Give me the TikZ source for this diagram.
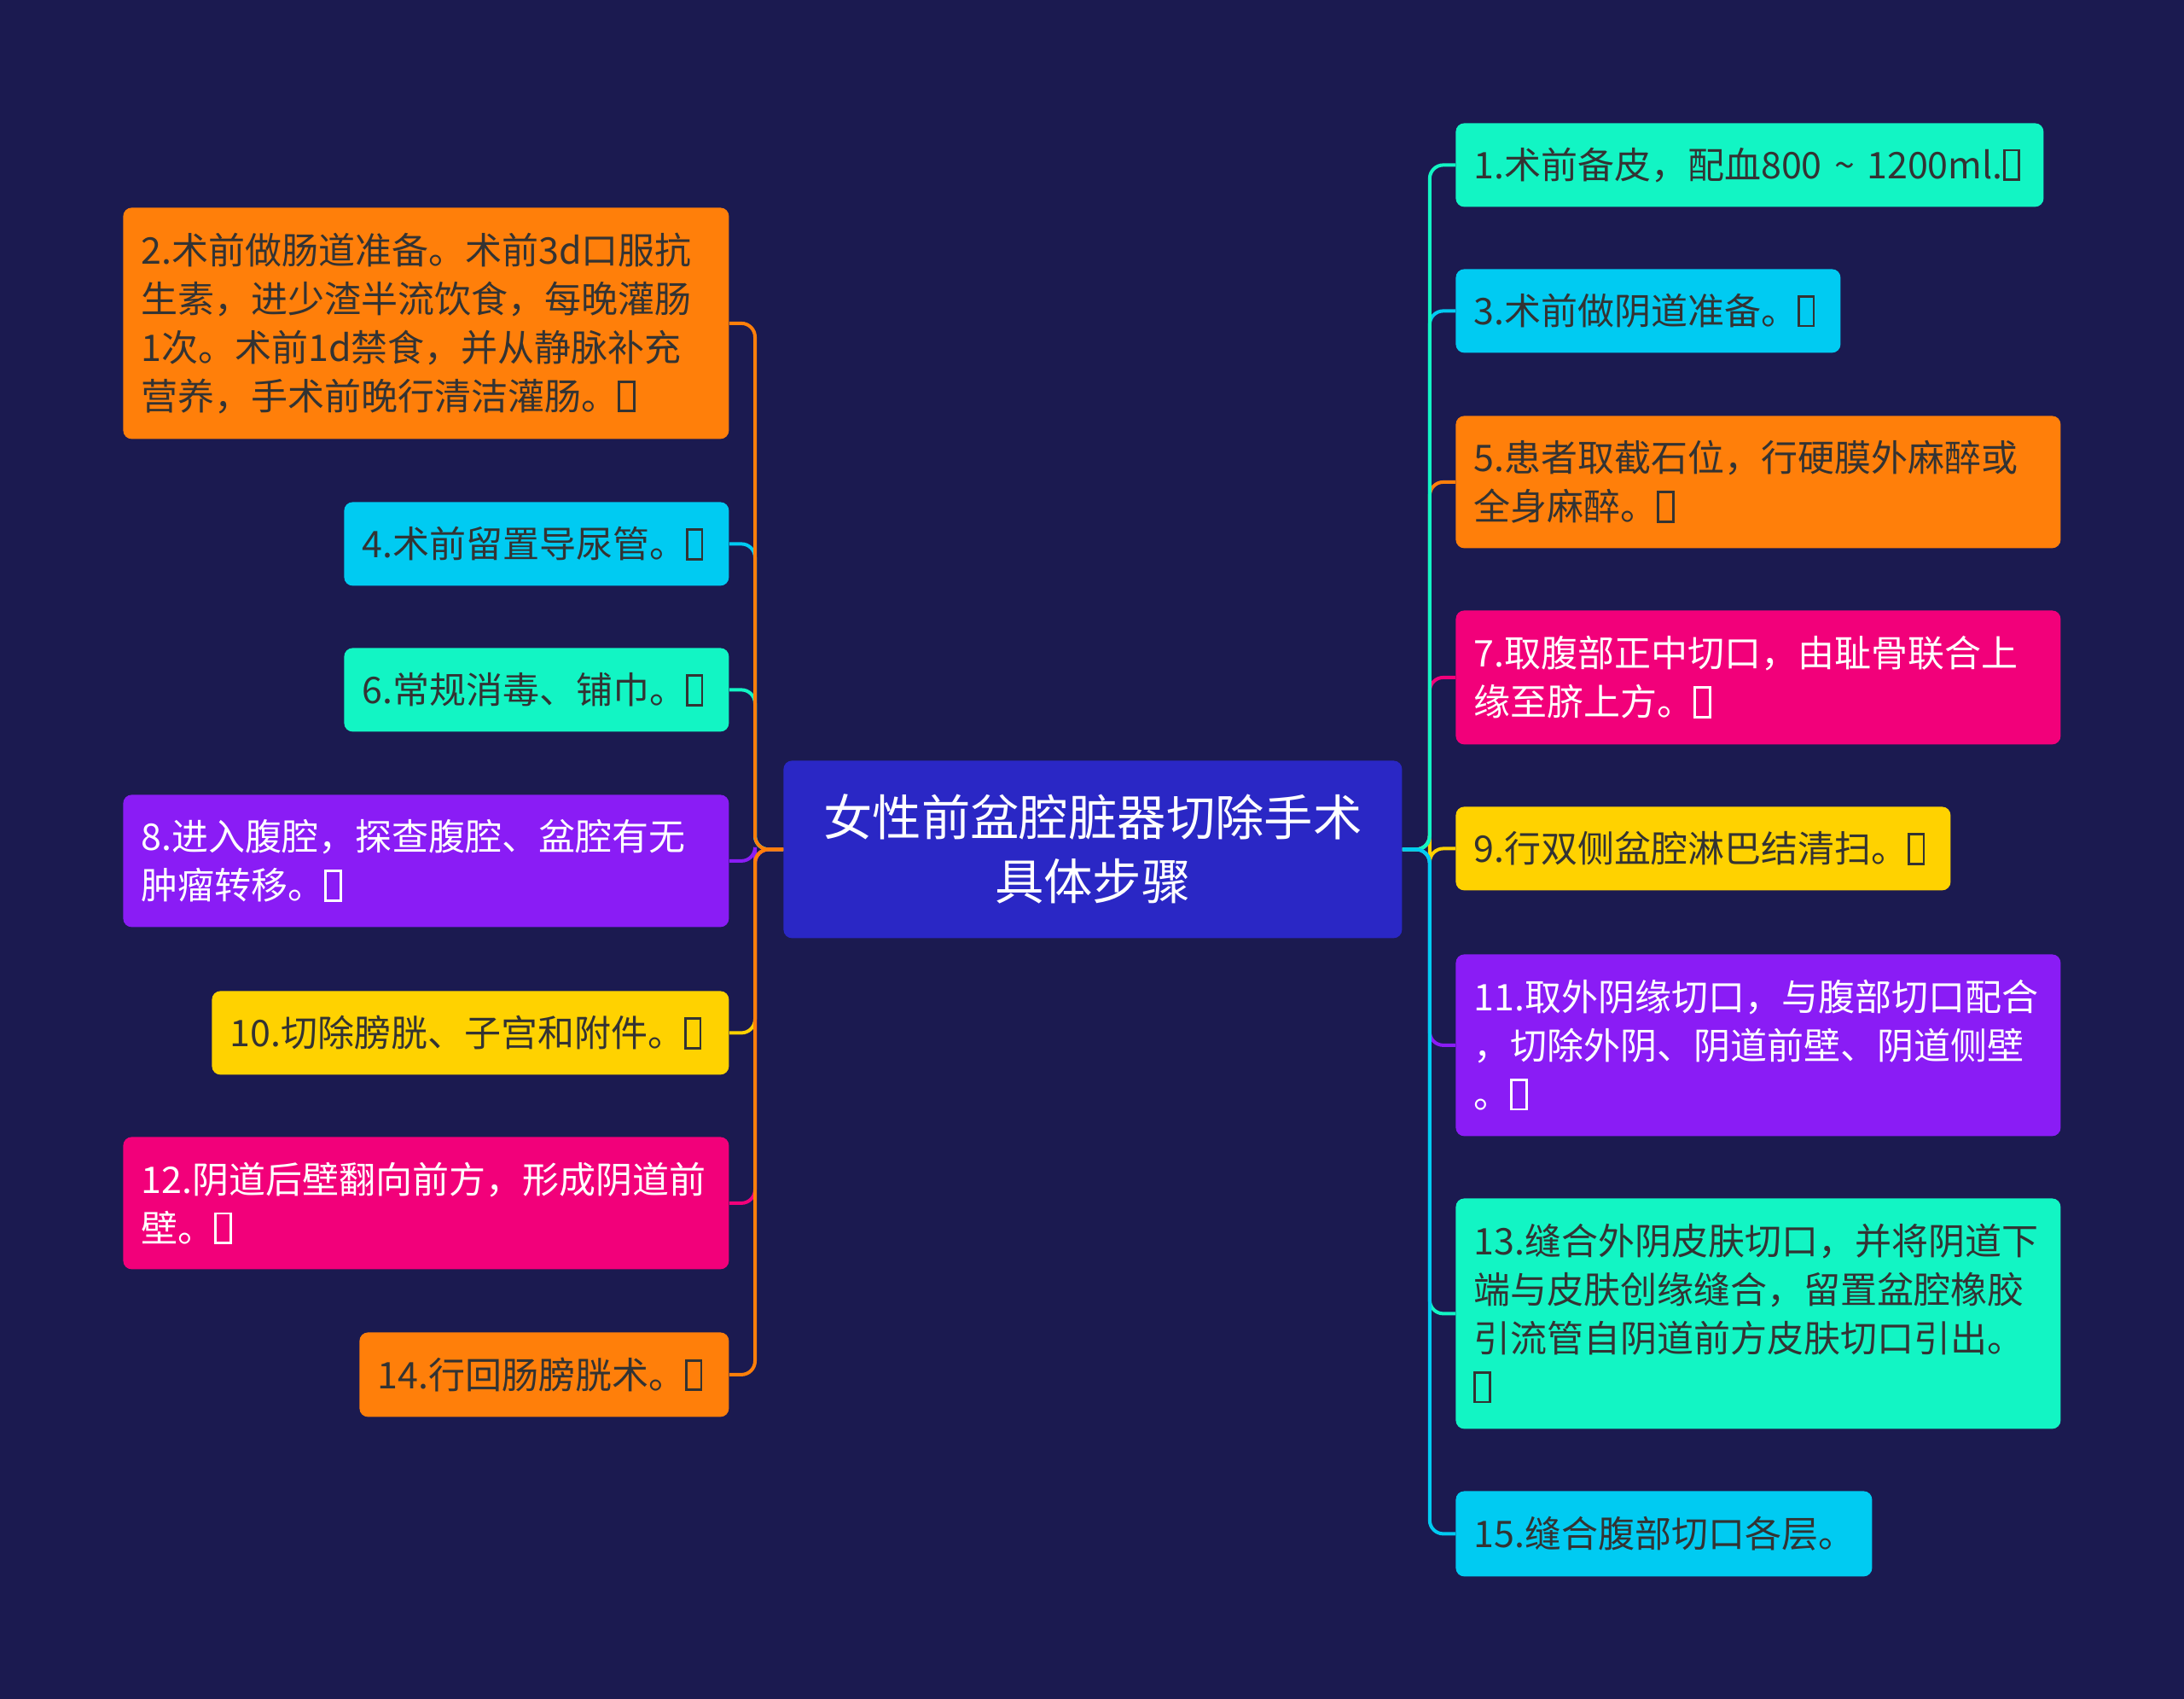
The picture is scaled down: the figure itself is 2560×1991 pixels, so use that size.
\documentclass[tikz,border=0pt]{standalone}
\usepackage{fontspec}
\setmainfont{Noto Sans CJK SC}
\definecolor{bg}{HTML}{1B1A50}
\definecolor{cmain}{HTML}{2A27C5}
\definecolor{corange}{HTML}{FF7F0A}
\definecolor{cmint}{HTML}{12F5C4}
\definecolor{csky}{HTML}{00CBF2}
\definecolor{cpink}{HTML}{F2007A}
\definecolor{cpurple}{HTML}{8A1CF5}
\definecolor{cyellow}{HTML}{FFD200}
\definecolor{cdark}{HTML}{333333}
\newcommand\tofubox{{\setlength\fboxsep{0pt}\setlength\fboxrule{0.065em}\fbox{\rule{0pt}{0.74em}\hspace{0.34em}}}}
\tikzset{
  box/.style={rounded corners=5pt, inner xsep=10.5pt, inner ysep=0pt, align=left,
    font=\fontsize{21.5pt}{28.5pt}\selectfont},
  conn/.style={line width=2pt, rounded corners=8pt},
}
\begin{document}
\begin{tikzpicture}[x=0.5pt,y=-0.5pt]
\fill[bg] (0,0) rectangle (2560,1991);
\useasboundingbox (0,0) rectangle (2560,1991);
% centre
\node[rounded corners=5pt, fill=cmain, text=white, minimum width=362.5pt, minimum height=104pt,
  inner sep=0pt, align=center, font=\fontsize{28.7pt}{37.5pt}\selectfont, anchor=north west]
  (c) at (918,891) {女性前盆腔脏器切除手术\\具体步骤};
% left
\node[box, fill=corange, text=cdark, text width=334pt, minimum height=135.5pt, anchor=north west] (n2) at (144,243)
  {2.术前做肠道准备。术前3d口服抗\\生素，进少渣半流饮食，每晚灌肠\\1次。术前1d禁食，并从静脉补充\\营养，手术前晚行清洁灌肠。\tofubox};
\node[box, fill=csky, text=cdark, text width=204.5pt, minimum height=49pt, anchor=north west] (n4) at (403,588)
  {4.术前留置导尿管。\tofubox};
\node[box, fill=cmint, text=cdark, text width=204.5pt, minimum height=49pt, anchor=north west] (n6) at (403,759)
  {6.常规消毒、铺巾。\tofubox};
\node[box, fill=cpurple, text=white, text width=334pt, minimum height=77.5pt, anchor=north west] (n8) at (144,931)
  {8.进入腹腔，探查腹腔、盆腔有无\\肿瘤转移。\tofubox};
\node[box, fill=cyellow, text=cdark, text width=282pt, minimum height=49pt, anchor=north west] (n10) at (248,1161)
  {10.切除膀胱、子宫和附件。\tofubox};
\node[box, fill=cpink, text=white, text width=334pt, minimum height=77.5pt, anchor=north west] (n12) at (144,1332)
  {12.阴道后壁翻向前方，形成阴道前\\壁。\tofubox};
\node[box, fill=corange, text=cdark, text width=195.5pt, minimum height=49.5pt, anchor=north west] (n14) at (421,1561)
  {14.行回肠膀胱术。\tofubox};
% right
\node[box, fill=cmint, text=cdark, text width=323.5pt, minimum height=49pt, anchor=north west] (n1) at (1706,144)
  {1.术前备皮，配血800 \textasciitilde{} 1200ml.\tofubox};
\node[box, fill=csky, text=cdark, text width=204.5pt, minimum height=49pt, anchor=north west] (n3) at (1706,315)
  {3.术前做阴道准备。\tofubox};
\node[box, fill=corange, text=cdark, text width=333.5pt, minimum height=77.5pt, anchor=north west] (n5) at (1706,487)
  {5.患者取截石位，行硬膜外麻醉或\\全身麻醉。\tofubox};
\node[box, fill=cpink, text=white, text width=333.5pt, minimum height=78.5pt, anchor=north west] (n7) at (1706,715)
  {7.取腹部正中切口，由耻骨联合上\\缘至脐上方。\tofubox};
\node[box, fill=cyellow, text=cdark, text width=269pt, minimum height=49pt, anchor=north west] (n9) at (1706,945)
  {9.行双侧盆腔淋巴结清扫。\tofubox};
\node[box, fill=cpurple, text=white, text width=333.5pt, minimum height=106.5pt, anchor=north west] (n11) at (1706,1118)
  {11.取外阴缘切口，与腹部切口配合\\，切除外阴、阴道前壁、阴道侧壁\\。\tofubox};
\node[box, fill=cmint, text=cdark, text width=333.5pt, minimum height=135pt, anchor=north west] (n13) at (1706,1404)
  {13.缝合外阴皮肤切口，并将阴道下\\端与皮肤创缘缝合，留置盆腔橡胶\\引流管自阴道前方皮肤切口引出。\\\tofubox};
\node[box, fill=csky, text=cdark, text width=223pt, minimum height=50pt, anchor=north west] (n15) at (1706,1747)
  {15.缝合腹部切口各层。};
% connectors left (innermost first, outermost last)
\foreach \n/\col in {n8/cpurple, n6/cmint, n10/cyellow, n4/csky, n12/cpink, n2/corange, n14/corange}
  \draw[conn, \col] (c.west) -- ++(-33,0) |- (\n.east);
% connectors right
\foreach \n/\col in {n9/cyellow, n7/cpink, n11/cpurple, n5/corange, n13/cmint, n3/csky, n1/cmint, n15/csky}
  \draw[conn, \col] (c.east) -- ++(32,0) |- (\n.west);
\end{tikzpicture}
\end{document}
